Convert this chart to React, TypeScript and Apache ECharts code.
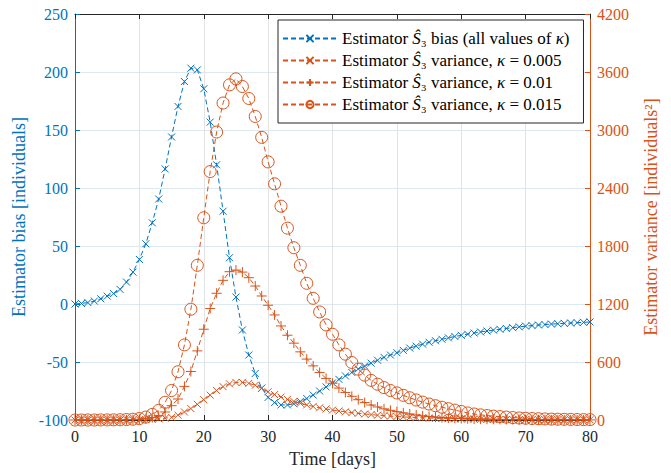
import React, { useEffect, useRef } from "react";
import * as echarts from "echarts";

const days: number[] = Array.from({ length: 81 }, (_, i) => i);

const biasVals: number[] = [
  0, 0.5, 1.2, 2.5, 4.5, 6.8, 9, 12.6, 18.9, 27.5,
  38.4, 51.9, 70, 90.5, 116.4, 144, 170.3, 191.8, 203.3, 201.8,
  185.5, 156.8, 120, 80, 39.9, 6, -22.4, -44, -59.9, -72.5,
  -80.5, -85, -87, -87, -86, -84, -81.5, -78.5, -75, -71.5,
  -68, -65, -62, -59, -56, -53.5, -51, -48.5, -46, -44,
  -42, -40, -38, -36.3, -34.6, -33, -31.7, -30.4, -29.2, -28,
  -27, -26, -25, -24.1, -23.3, -22.5, -21.8, -21.1, -20.4, -19.7,
  -19.1, -18.6, -18.1, -17.7, -17.3, -17, -16.7, -16.4, -16.1, -15.8,
  -15.5,
];

const var005: number[] = [
  0, 0, 0, 0, 0, 0, 0, 1, 1, 2,
  3, 5, 8, 12, 18, 28, 50, 83, 118, 162,
  210, 257, 305, 345, 374, 388, 389, 379, 360, 327,
  292, 263, 237, 213, 192, 173, 156, 140, 126, 114,
  103, 93, 84, 76, 69, 62, 56, 50, 45, 40,
  36, 32, 29, 26, 23, 20, 18, 16, 14, 12,
  11, 10, 9, 8, 7, 6, 6, 5, 5, 4,
  4, 4, 3, 3, 3, 3, 2, 2, 2, 2,
  2,
];

const var010: number[] = [
  0, 0, 0, 0, 0, 0, 1, 1, 2, 4,
  7, 13, 25, 45, 83, 148, 217, 348, 502, 715,
  939, 1153, 1311, 1445, 1534, 1551, 1530, 1472, 1386, 1283,
  1187, 1087, 973, 877, 795, 705, 630, 560, 492, 430,
  380, 330, 285, 245, 210, 180, 155, 135, 115, 100,
  86, 74, 62, 52, 43, 36, 30, 25, 21, 18,
  15, 13, 11, 9, 8, 7, 6, 5, 5, 4,
  4, 3, 3, 3, 2, 2, 2, 2, 1, 1,
  1,
];

const var015: number[] = [
  0, 0, 0, 0, 1, 1, 2, 3, 5, 8,
  15, 30, 58, 100, 183, 305, 499, 777, 1146, 1600,
  2092, 2570, 2979, 3279, 3467, 3529, 3450, 3326, 3140, 2924,
  2670, 2443, 2212, 1985, 1782, 1600, 1414, 1259, 1118, 984,
  887, 777, 681, 595, 526, 464, 410, 370, 335, 305,
  280, 255, 230, 207, 185, 165, 148, 132, 117, 102,
  88, 73, 62, 53, 46, 40, 35, 30, 25, 21,
  18, 15, 13, 11, 9, 8, 7, 6, 5, 4,
  4,
];

const seriesNames: string[] = ["bias", "var005", "var010", "var015"];

const legendLabels: Record<string, string> = {
  bias: "Estimator {it|Ŝ}{n|₃} bias (all values of {it|κ})",
  var005: "Estimator {it|Ŝ}{n|₃} variance, {it|κ} = 0.005",
  var010: "Estimator {it|Ŝ}{n|₃} variance, {it|κ} = 0.01",
  var015: "Estimator {it|Ŝ}{n|₃} variance, {it|κ} = 0.015",
};

const BLUE = "#0072BD";
const ORANGE = "#D95319";
const FONT = "Liberation Serif";

const X_PATH = "path://M0,0L10,10M10,0L0,10";
const PLUS_PATH = "path://M5,0L5,10M0,5L10,5";

function pairs(vals: number[]): number[][] {
  return days.map((d, i) => [d, vals[i]]);
}

export default function App() {
  const ref = useRef<HTMLDivElement>(null);

  useEffect(() => {
    if (!ref.current) return;
    const chart = echarts.init(ref.current, undefined, { renderer: "svg" });
    const dash = [5, 3];
    const option: any = {
      animation: false,
      backgroundColor: "#ffffff",
      textStyle: { fontFamily: FONT },
      grid: { left: 75, right: 81, top: 14, bottom: 52, containLabel: false },
      legend: {
        data: seriesNames,
        orient: "vertical",
        left: 278,
        top: 20,
        backgroundColor: "#ffffff",
        borderColor: "#262626",
        borderWidth: 1,
        borderRadius: 0,
        padding: [10, 14, 10, 4],
        itemWidth: 54,
        itemHeight: 9,
        itemGap: 5,
        formatter: (name: string) => legendLabels[name],
        textStyle: {
          fontFamily: FONT,
          fontSize: 17,
          color: "#000",
          rich: {
            it: { fontFamily: FONT, fontStyle: "italic", fontSize: 17, color: "#000" },
            n: { fontFamily: FONT, fontSize: 17, color: "#000" },
          },
        },
      },
      xAxis: [
        {
          type: "value",
          min: 0,
          max: 80,
          interval: 10,
          name: "Time [days]",
          nameLocation: "middle",
          nameGap: 30,
          nameTextStyle: { fontFamily: FONT, fontSize: 18, color: "#262626" },
          axisLine: { show: true, onZero: false, lineStyle: { color: "#262626", width: 1 } },
          axisTick: { show: true, inside: true, length: 5, lineStyle: { color: "#262626" } },
          axisLabel: { fontFamily: FONT, fontSize: 16, color: "#262626", margin: 8 },
          splitLine: { show: true, lineStyle: { color: "#E3E3E3", width: 1 } },
        },
        {
          type: "value",
          position: "top",
          min: 0,
          max: 80,
          interval: 10,
          axisLine: { show: true, onZero: false, lineStyle: { color: "#262626", width: 1 } },
          axisTick: { show: true, inside: true, length: 5, lineStyle: { color: "#262626" } },
          axisLabel: { show: false },
          splitLine: { show: false },
        },
      ],
      yAxis: [
        {
          type: "value",
          position: "left",
          min: -100,
          max: 250,
          interval: 50,
          name: "Estimator bias [individuals]",
          nameLocation: "middle",
          nameGap: 46,
          nameTextStyle: { fontFamily: FONT, fontSize: 18, color: BLUE },
          axisLine: { show: true, onZero: false, lineStyle: { color: BLUE, width: 1 } },
          axisTick: { show: true, inside: true, length: 5, lineStyle: { color: BLUE } },
          axisLabel: { fontFamily: FONT, fontSize: 16, color: BLUE, margin: 7 },
          splitLine: { show: true, lineStyle: { color: "#DCE8F2", width: 1 } },
        },
        {
          type: "value",
          position: "right",
          min: 0,
          max: 4200,
          interval: 600,
          name: "Estimator variance [individuals²]",
          nameLocation: "middle",
          nameGap: 52,
          nameTextStyle: { fontFamily: FONT, fontSize: 18, color: ORANGE },
          axisLine: { show: true, onZero: false, lineStyle: { color: ORANGE, width: 1 } },
          axisTick: { show: true, inside: true, length: 5, lineStyle: { color: ORANGE } },
          axisLabel: {
            fontFamily: FONT,
            fontSize: 16,
            color: ORANGE,
            margin: 7,
            formatter: (v: number) => String(v),
          },
          splitLine: { show: false },
        },
      ],
      series: [
        {
          name: "bias",
          type: "line",
          xAxisIndex: 0,
          yAxisIndex: 0,
          data: pairs(biasVals),
          symbol: X_PATH,
          symbolSize: 7,
          showAllSymbol: true,
          lineStyle: { color: BLUE, width: 1, type: dash },
          itemStyle: { color: "none", borderColor: BLUE, borderWidth: 1 },
          z: 2,
        },
        {
          name: "var005",
          type: "line",
          xAxisIndex: 0,
          yAxisIndex: 1,
          data: pairs(var005),
          symbol: X_PATH,
          symbolSize: 7,
          showAllSymbol: true,
          lineStyle: { color: ORANGE, width: 1, type: dash },
          itemStyle: { color: "none", borderColor: ORANGE, borderWidth: 1 },
          z: 3,
        },
        {
          name: "var010",
          type: "line",
          xAxisIndex: 0,
          yAxisIndex: 1,
          data: pairs(var010),
          symbol: PLUS_PATH,
          symbolSize: 10,
          showAllSymbol: true,
          lineStyle: { color: ORANGE, width: 1, type: dash },
          itemStyle: { color: "none", borderColor: ORANGE, borderWidth: 1 },
          z: 3,
        },
        {
          name: "var015",
          type: "line",
          xAxisIndex: 0,
          yAxisIndex: 1,
          data: pairs(var015),
          symbol: "circle",
          symbolSize: 12,
          showAllSymbol: true,
          lineStyle: { color: ORANGE, width: 1, type: dash },
          itemStyle: { color: "none", borderColor: ORANGE, borderWidth: 1 },
          z: 3,
        },
      ],
    };
    chart.setOption(option);
    return () => {
      chart.dispose();
    };
  }, []);

  return (
    <div
      ref={ref}
      style={{ position: "fixed", left: 0, top: 0, width: 671, height: 473, background: "#fff" }}
    />
  );
}
